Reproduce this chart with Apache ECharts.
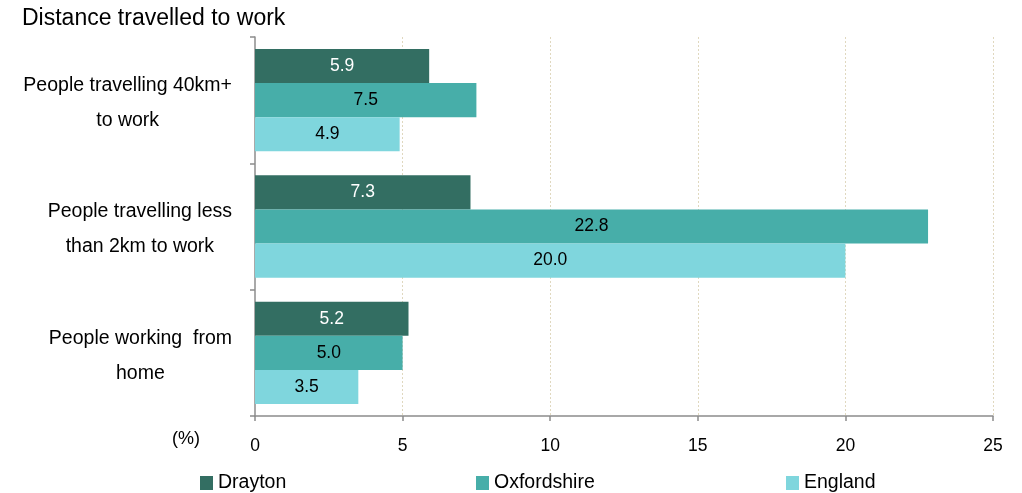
<!DOCTYPE html>
<html>
<head>
<meta charset="utf-8">
<script src="https://cdn.jsdelivr.net/npm/echarts@6/dist/echarts.min.js"></script>
<style>
  html, body { margin: 0; padding: 0; background: #fff; }
  #main { width: 1022px; height: 493px; }
</style>
</head>
<body>
<div id="main"></div>
<script>
// categories, top to bottom
const categories = [
  'People travelling 40km+\nto work',
  'People travelling less\nthan 2km to work',
  'People working  from\nhome'
];
const seriesNames = ['Drayton', 'Oxfordshire', 'England'];
const drayton = [5.9, 7.3, 5.2];
const oxfordshire = [7.5, 22.8, 5.0];
const england = [4.9, 20.0, 3.5];
const xTicks = [0, 5, 10, 15, 20, 25];

const colors = ['#336e62', '#47aea9', '#7fd6dd'];
const labelColors = ['#ffffff', '#000000', '#000000'];
const font = 'Liberation Sans, Arial, sans-serif';

const values = [drayton, oxfordshire, england];
const legendLeft = [195, 471, 781];

let chart = echarts.init(document.getElementById('main'));

let option = {
  animation: false,
  textStyle: { fontFamily: font },
  title: {
    text: 'Distance travelled to work',
    left: 17,
    top: 2,
    textStyle: { fontFamily: font, fontSize: 23, fontWeight: 'normal', color: '#000' }
  },
  legend: seriesNames.map((n, i) => ({
    data: [n],
    left: legendLeft[i],
    top: 468,
    icon: 'rect',
    itemWidth: 13,
    itemHeight: 14,
    textStyle: { fontFamily: font, fontSize: 19.5, color: '#000' }
  })),
  grid: { left: 255, right: 29, top: 37, bottom: 77 },
  xAxis: {
    type: 'value',
    min: xTicks[0],
    max: xTicks[xTicks.length - 1],
    interval: 5,
    axisLine: { show: true, lineStyle: { color: '#8c8c8c', width: 1.5 } },
    axisTick: { show: true, length: 5, lineStyle: { color: '#8c8c8c', width: 1.5 } },
    axisLabel: { fontFamily: font, fontSize: 17.5, color: '#000', margin: 21 },
    splitLine: {
      show: true,
      showMinLine: false,
      lineStyle: { type: [2, 2], color: '#e0d8bf', width: 1 }
    }
  },
  yAxis: {
    type: 'category',
    data: categories,
    inverse: true,
    axisLine: { show: true, lineStyle: { color: '#8c8c8c', width: 1.5 } },
    axisTick: { show: true, length: 5, lineStyle: { color: '#8c8c8c', width: 1.5 } },
    axisLabel: {
      align: 'right',
      margin: 23,
      padding: [6, 0, 0, 0],
      // lines centred within the block, block right-aligned
      formatter: v => v.split('\n').map(s => '{c|' + s + '}').join('\n'),
      rich: {
        c: { fontFamily: font, fontSize: 19.5, color: '#000', align: 'center', lineHeight: 35 }
      }
    }
  },
  graphic: [{
    type: 'text',
    left: 172,
    top: 430,
    style: { text: '(%)', fontFamily: font, fontSize: 18, fill: '#000' }
  }],
  series: seriesNames.map((n, i) => ({
    name: n,
    type: 'bar',
    data: values[i],
    barGap: '0%',
    barCategoryGap: '19%',
    itemStyle: { color: colors[i] },
    label: {
      show: true,
      position: 'inside',
      formatter: p => p.value.toFixed(1),
      fontFamily: font,
      fontSize: 17.5,
      color: labelColors[i]
    }
  }))
};

chart.setOption(option);
</script>
</body>
</html>
